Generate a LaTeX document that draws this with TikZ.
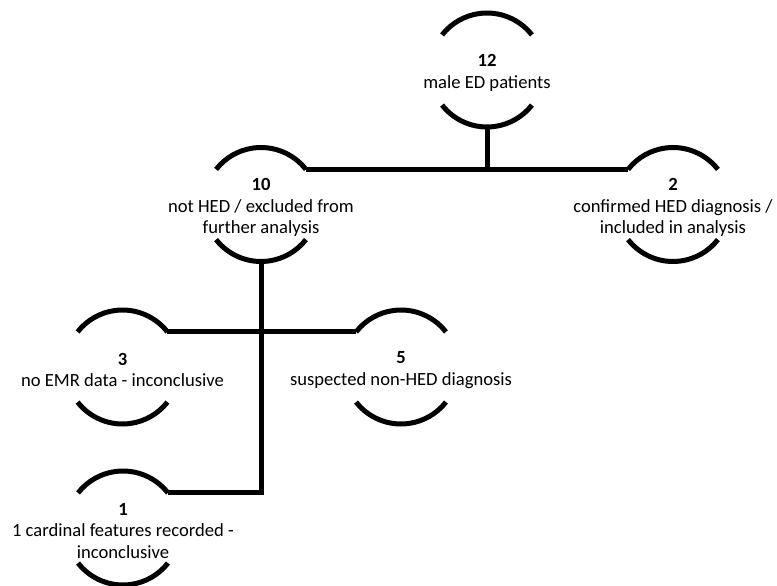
\documentclass[tikz,border=0pt]{standalone}
\usepackage{fontspec}
\setmainfont{Carlito}
\begin{document}
\begin{tikzpicture}[x=1pt,y=-1pt,line width=5pt,
    grp/.style={circle,minimum size=114pt,inner sep=0pt,outer sep=0pt},
    every label/.style={align=center,yshift=-3pt,font=\fontsize{18.6}{21.5}\selectfont}]
      \useasboundingbox (0,0) rectangle (777,586);
      \node[grp,label={center:{\textbf{12}\\male ED patients}}] (n12) at (487,70) {};
      \node[grp,label={center:{\textbf{10}\\not HED / excluded from\\further analysis}}] (n10) at (261,204.5) {};
      \node[grp,label={center:{\textbf{2}\\confirmed HED diagnosis /\\included in analysis}}] (n2) at (673,204.5) {};
      \node[grp,label={center:{\textbf{3}\\no EMR data - inconclusive}}] (n3) at (122.5,367) {};
      \node[grp,label={center:{\textbf{5}\\suspected non-HED diagnosis}}] (n5) at (401,367) {};
      \node[grp,label={center:{\textbf{1}\\1 cardinal features recorded -\\inconclusive}}] (n1) at (123,528) {};
      \foreach \n in {n12,n10,n2,n3,n5,n1} {
        \draw (\n.38) arc[start angle=38,end angle=142,radius=57pt];
        \draw (\n.218) arc[start angle=218,end angle=322,radius=57pt];
      }
      \draw (n12.south) -- (n12.south |- n10.38);
      \draw (n10.38) -- (n2.142);
      \draw (n10.south) -- (n10.south |- n1.38) -- (n1.38);
      \draw (n3.38) -- (n5.142);
    \end{tikzpicture}
\end{document}
